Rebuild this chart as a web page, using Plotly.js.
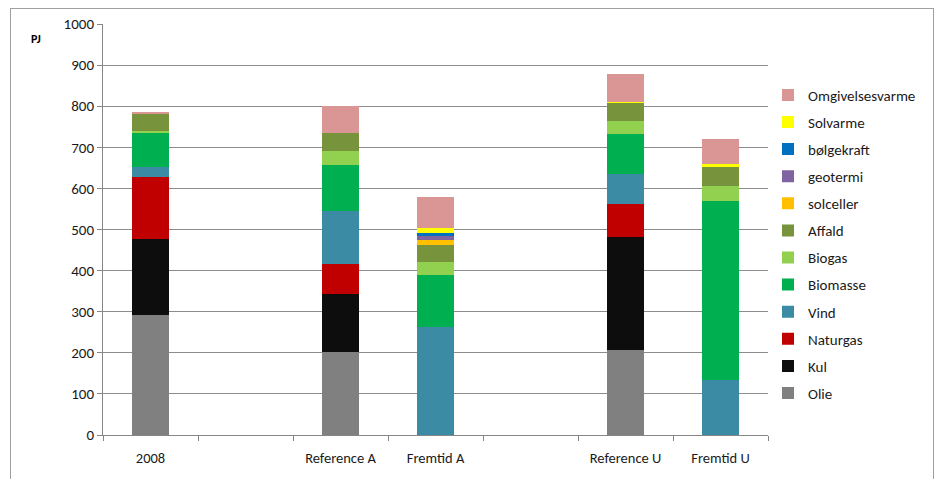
<!DOCTYPE html>
<html>
<head>
<meta charset="utf-8">
<script src="https://cdn.plot.ly/plotly-3.0.1.min.js"></script>
<style>
html,body{margin:0;padding:0;background:#fff;}
#wrap{position:relative;width:936px;height:479px;}
#frame{position:absolute;left:10px;top:8px;width:924px;height:480px;border:1px solid #a0a0a0;box-sizing:border-box;pointer-events:none;z-index:5;}
#chart{position:absolute;left:0;top:0;width:936px;height:479px;}
</style>
</head>
<body>
<div id="wrap"><div id="chart"></div><div id="frame"></div></div>
<script>
// Categories (blank slots are spacers between groups)
const categories = ["2008", " ", "Reference A", "Fremtid A", "  ", "Reference U", "Fremtid U"];

// Series values in PJ, one per category
const olie        = [292, 0, 201, 0,   0, 208, 0];
const kul         = [184, 0, 142, 0,   0, 273, 0];
const naturgas    = [151, 0, 74,  0,   0, 80,  0];
const vind        = [24,  0, 128, 264, 0, 73,  135];
const biomasse    = [85,  0, 111, 125, 0, 99,  434];
const biogas      = [3,   0, 34,  33,  0, 30,  36];
const affald      = [41,  0, 45,  40,  0, 46,  46];
const solceller   = [0,   0, 0,   12,  0, 0,   0];
const geotermi    = [0,   0, 0,   11,  0, 0,   0];
const boelgekraft = [0,   0, 0,   6,   0, 0,   0];
const solvarme    = [0,   0, 0,   13,  0, 2,   8];
const omgivelsesvarme = [6, 0, 66, 76, 0, 67, 60];

const seriesNames = ["Olie","Kul","Naturgas","Vind","Biomasse","Biogas","Affald","solceller","geotermi","bølgekraft","Solvarme","Omgivelsesvarme"];
const seriesValues = [olie,kul,naturgas,vind,biomasse,biogas,affald,solceller,geotermi,boelgekraft,solvarme,omgivelsesvarme];
const seriesColors = ["#808080","#0d0d0d","#c00000","#3b8ba5","#00b050","#92d050","#77933c","#ffc000","#8064a2","#0070c0","#ffff00","#d99694"];

const traces = seriesNames.map((n,i)=>({
  type:"bar", name:n, x:categories, y:seriesValues[i],
  marker:{color:seriesColors[i], line:{width:0}},
  legendgroup:"g"+i, legendrank:100 + (seriesNames.length - i), hoverinfo:"x+y+name"
}));

const fontFam = "Carlito, 'Liberation Sans', 'Noto Sans', sans-serif";
const layout = {
  width:936, height:479,
  margin:{l:103, r:168, t:24, b:44},
  paper_bgcolor:"#fff", plot_bgcolor:"#fff",
  barmode:"stack", bargap:0.61,
  font:{family:fontFam, size:13, color:"#1a1a1a"},
  showlegend:true,
  legend:{x:1.0, y:0.867, xanchor:"left", yanchor:"top", traceorder:"grouped",
          tracegroupgap:4.6, font:{size:15, color:"#1a1a1a"}, itemwidth:30, bgcolor:"rgba(0,0,0,0)"},
  xaxis:{type:"category", categoryorder:"array", categoryarray:categories,
         tickson:"boundaries", ticks:"outside", ticklen:5, tickcolor:"#868686",
         showline:true, linecolor:"#868686", linewidth:1, showgrid:false,
         ticklabelstandoff:10,
         tickfont:{size:14.5, color:"#1a1a1a"}, fixedrange:true},
  yaxis:{range:[0,1000], dtick:100, ticks:"outside", ticklen:5, tickcolor:"#868686",
         showline:true, linecolor:"#868686", linewidth:1,
         showgrid:true, gridcolor:"#8c8c8c", gridwidth:1, zeroline:false,
         tickfont:{size:15, color:"#1a1a1a"}, fixedrange:true},
  annotations:[{text:"<b>PJ</b>", xref:"paper", yref:"paper", x:-0.101, y:0.9635,
                xanchor:"center", yanchor:"middle", showarrow:false, font:{size:12, color:"#000"}}]
};

Plotly.newPlot("chart", traces, layout, {displayModeBar:false, staticPlot:true});
</script>
</body>
</html>
